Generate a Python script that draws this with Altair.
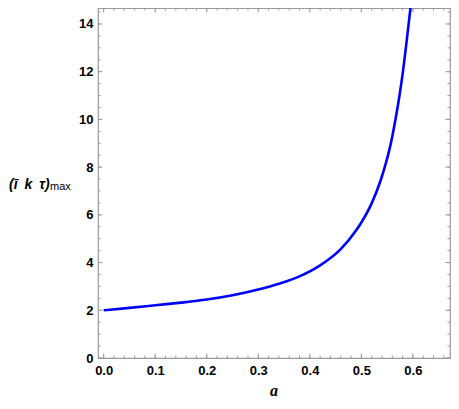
import altair as alt
import pandas as pd

# curve
a_vals = [0.00, 0.05, 0.10, 0.15, 0.20, 0.25, 0.30, 0.34, 0.38, 0.42, 0.46, 0.49,
          0.50, 0.52, 0.537, 0.548, 0.556, 0.566, 0.574, 0.580, 0.588, 0.596, 0.600]
y_vals = [2.00, 2.10, 2.21, 2.32, 2.45, 2.63, 2.87, 3.11, 3.42, 3.88, 4.56, 5.35,
          5.68, 6.48, 7.42, 8.20, 8.88, 9.98, 11.00, 11.90, 13.30, 14.80, 15.60]

x_major = [0.0, 0.1, 0.2, 0.3, 0.4, 0.5, 0.6]
y_major = [0, 2, 4, 6, 8, 10, 12, 14]
x_minor = [round(i * 0.02, 2) for i in range(0, 34)]
y_minor = [i * 0.5 for i in range(0, 30)]

W, H = 352, 350
XDOM = [-0.011, 0.672]
YDOM = [0, 14.67]
FRAME = "#9a9a9a"
FONT = "Liberation Sans"

xs = alt.Scale(domain=XDOM, nice=False, zero=False)
ys = alt.Scale(domain=YDOM, nice=False, zero=False)

xaxis = alt.Axis(values=x_major, format=".1f", title=None, domain=False,
                 ticks=False, grid=False, labelFont=FONT, labelFontSize=13,
                 labelFontWeight="bold", labelColor="black", labelPadding=6)
yaxis = alt.Axis(values=y_major, format="d", title=None, domain=False,
                 ticks=False, grid=False, labelFont=FONT, labelFontSize=13,
                 labelFontWeight="bold", labelColor="black", labelPadding=5)

curve = pd.DataFrame({"a": a_vals, "y": y_vals})

line = alt.Chart(curve).mark_line(color="#0000ff", strokeWidth=2.6, clip=True,
                                  interpolate="monotone").encode(
    x=alt.X("a:Q", scale=xs, axis=xaxis),
    y=alt.Y("y:Q", scale=ys, axis=yaxis),
)

dxmin = pd.DataFrame({"v": x_minor})
dxmaj = pd.DataFrame({"v": x_major})
dymin = pd.DataFrame({"v": y_minor})
dymaj = pd.DataFrame({"v": y_major})


def xticks(df, y0, y1):
    return alt.Chart(df).mark_rule(color=FRAME, strokeWidth=1).encode(
        x=alt.X("v:Q", scale=xs, axis=xaxis), y=alt.value(y0), y2=alt.value(y1))


def yticks(df, x0, x1):
    return alt.Chart(df).mark_rule(color=FRAME, strokeWidth=1).encode(
        y=alt.Y("v:Q", scale=ys, axis=yaxis), x=alt.value(x0), x2=alt.value(x1))


ticks = [
    xticks(dxmin, H, H - 2.5), xticks(dxmaj, H, H - 4.5),
    xticks(dxmin, 0, 2.5), xticks(dxmaj, 0, 4.5),
    yticks(dymin, 0, 2.5), yticks(dymaj, 0, 4.5),
    yticks(dymin, W, W - 2.5), yticks(dymaj, W, W - 4.5),
]

one = pd.DataFrame({"k": [0]})
lab_main = alt.Chart(one).mark_text(font=FONT, fontSize=14, fontWeight="bold",
                                    fontStyle="italic", align="left",
                                    baseline="alphabetic", color="black").encode(
    x=alt.value(-89), y=alt.value(181), text=alt.value("(ī\u2002k\u2002τ)"))
lab_sub = alt.Chart(one).mark_text(font=FONT, fontSize=11, align="left",
                                   baseline="alphabetic", color="black").encode(
    x=alt.value(-48), y=alt.value(182), text=alt.value("max"))
lab_x = alt.Chart(one).mark_text(font="Liberation Serif", fontSize=16,
                                 fontWeight="bold", fontStyle="italic",
                                 align="center", baseline="alphabetic",
                                 color="black").encode(
    x=alt.value(176), y=alt.value(H + 38), text=alt.value("a"))

chart = alt.layer(line, *ticks, lab_main, lab_sub, lab_x).properties(
    width=W, height=H,
    autosize=alt.AutoSizeParams(type="none"),
    padding={"left": 90, "top": 0, "right": 1, "bottom": 43},
).configure_view(stroke=FRAME, strokeWidth=1.2)

chart.save("out.html", embed_options={"renderer": "svg", "actions": False})
